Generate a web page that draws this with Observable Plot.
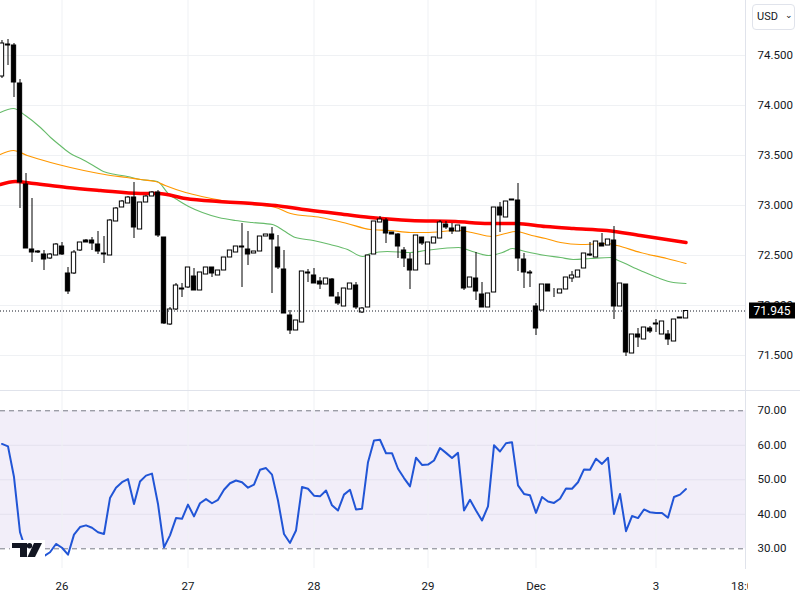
<!DOCTYPE html>
<html><head><meta charset="utf-8">
<script src="https://cdn.jsdelivr.net/npm/d3@7"></script>
<script src="https://cdn.jsdelivr.net/npm/@observablehq/plot@0.6"></script>
<style>
body{margin:0;background:#fff;}
#wrap{position:relative;width:800px;height:600px;overflow:hidden;background:#fff;font-family:Roboto,"Noto Sans",sans-serif;}
#price{position:absolute;left:0;top:0;}
#rsi{position:absolute;left:0;top:391px;}
.sep-h{position:absolute;left:0;top:390px;width:800px;height:1px;background:#e0e3eb;}
.sep-v{position:absolute;left:745px;top:0;width:1px;height:569px;background:#e0e3eb;}
.clip{position:absolute;left:748px;top:569px;width:52px;height:31px;background:#fff;}
#usd{position:absolute;left:752px;top:4px;width:41px;height:24px;border:1px solid #e0e3eb;border-radius:4px;background:#fff;font-size:11px;color:#131722;line-height:24px;box-sizing:content-box;}
#usd span.t{position:absolute;left:4px;top:0;}
#usd span.c{position:absolute;left:32px;top:-2px;font-size:9px;}
#logo{position:absolute;left:10px;top:540px;width:35px;height:20px;background:#fff;}
</style></head>
<body><div id="wrap">
<div id="price"></div><div id="rsi"></div>
<div class="sep-h"></div><div class="sep-v"></div><div class="clip"></div>
<div id="usd"><span class="t">USD</span><span class="c">&#8964;</span></div>
<svg id="logo" viewBox="0 0 35 20"><path d="M2 3H17V17H10V8H2Z" fill="#131722"/><circle cx="19.5" cy="5.8" r="2.7" fill="#131722"/><path d="M24 3H32L25 17H17.5Z" fill="#131722"/></svg>
</div>
<script>
const openP = [74.29,74.60,74.60,74.22,73.21,72.56,72.54,72.51,72.47,72.50,
72.59,72.32,72.32,72.55,72.65,72.65,72.61,72.52,72.50,72.84,
72.98,73.02,73.08,72.76,73.03,73.09,73.13,72.68,71.81,71.96,
72.16,72.18,72.29,72.15,72.31,72.38,72.30,72.35,72.48,72.53,
72.59,72.56,72.52,72.54,72.69,72.71,72.58,72.36,71.90,71.75,
71.83,72.32,72.30,72.24,72.21,72.26,72.08,71.99,72.16,72.20,
71.93,71.98,72.51,72.83,72.85,72.73,72.71,72.55,72.46,72.35,
72.68,72.41,72.62,72.67,72.81,72.77,72.74,72.78,72.18,72.27,
72.11,71.98,72.13,72.98,72.88,73.06,73.05,72.46,72.33,71.99,
71.95,72.21,72.15,72.12,72.16,72.27,72.28,72.37,72.50,72.48,
72.62,72.60,72.65,71.99,72.21,71.52,71.71,71.66,71.77,71.81,
71.71,71.71,71.64,71.87,71.87];
const highP = [74.65,74.66,74.62,74.26,73.32,73.07,72.55,72.55,72.52,72.62,
72.63,72.38,72.55,72.63,72.66,72.68,72.74,72.69,72.86,72.98,
73.05,73.09,73.23,73.03,73.10,73.14,73.15,72.68,71.98,72.22,
72.22,72.38,72.37,72.33,72.38,72.38,72.35,72.48,72.55,72.59,
72.82,72.74,72.54,72.69,72.71,72.78,72.70,72.55,71.95,71.85,
72.34,72.36,72.37,72.28,72.27,72.27,72.13,72.17,72.22,72.23,
71.98,72.50,72.84,72.89,72.87,72.73,72.72,72.58,72.52,72.70,
72.68,72.63,72.68,72.85,72.84,72.82,72.80,72.78,72.28,72.53,
72.23,72.12,72.98,73.03,73.04,73.06,73.22,72.52,72.35,72.02,
72.21,72.21,72.17,72.16,72.28,72.34,72.35,72.52,72.63,72.64,
72.72,72.66,72.79,72.22,72.21,71.71,71.77,71.78,71.79,71.86,
71.84,71.75,71.86,71.88,71.95];
const lowP = [74.27,74.40,74.08,72.97,72.57,72.43,72.52,72.35,72.46,72.50,
72.50,72.11,72.31,72.54,72.63,72.55,72.51,72.42,72.50,72.84,
72.98,73.02,72.67,72.76,73.03,73.09,72.68,71.81,71.80,71.95,
72.08,72.17,72.15,72.15,72.31,72.28,72.30,72.35,72.48,72.53,
72.18,72.40,72.52,72.54,72.69,72.12,72.36,71.92,71.71,71.75,
71.83,72.23,72.22,72.16,72.21,72.09,72.00,71.99,72.16,71.96,
71.92,71.98,72.51,72.83,72.62,72.71,72.47,72.38,72.16,72.35,
72.60,72.41,72.62,72.67,72.76,72.71,72.74,72.15,72.18,72.05,
71.98,71.98,72.13,72.73,72.88,73.05,72.34,72.17,72.18,71.70,
71.95,72.14,72.08,72.12,72.16,72.23,72.28,72.37,72.49,72.48,
72.59,72.60,71.86,71.99,71.49,71.52,71.58,71.66,71.72,71.73,
71.71,71.60,71.64,71.87,71.87];
const closeP = [74.62,74.61,74.23,73.23,72.57,72.53,72.53,72.46,72.51,72.61,
72.51,72.14,72.53,72.63,72.63,72.62,72.54,72.51,72.85,72.97,
73.04,73.08,72.78,73.03,73.09,73.13,72.70,71.82,71.96,72.20,
72.17,72.38,72.15,72.33,72.38,72.32,72.35,72.48,72.55,72.59,
72.58,72.51,72.54,72.69,72.71,72.66,72.38,71.92,71.75,71.85,
72.34,72.33,72.22,72.21,72.27,72.09,72.02,72.17,72.22,71.98,
71.97,72.50,72.84,72.86,72.72,72.71,72.59,72.47,72.35,72.70,
72.62,72.63,72.68,72.83,72.78,72.74,72.80,72.17,72.28,72.14,
71.98,72.12,72.98,72.90,73.04,73.05,72.47,72.33,72.32,71.77,
72.21,72.14,72.15,72.16,72.28,72.30,72.35,72.52,72.51,72.64,
72.59,72.66,71.99,72.22,71.53,71.71,71.68,71.78,71.74,71.82,
71.84,71.66,71.86,71.88,71.945];
const rsi = [60.4,59.7,50.8,34.8,29.5,28.2,27.9,27.9,29.0,31.4,
30.3,28.3,34.1,36.3,36.8,36.1,34.8,34.3,44.7,47.7,
49.3,50.2,43.0,49.5,51.2,51.8,43.0,30.4,33.9,38.9,
38.7,42.8,39.4,43.2,44.4,43.2,44.2,47.1,49.0,49.8,
49.3,47.7,48.6,52.9,53.4,51.5,44.0,34.3,31.7,35.3,
47.9,47.4,45.4,45.2,46.9,42.6,41.1,45.7,47.1,41.4,
41.6,55.1,61.4,61.6,57.7,57.7,53.2,50.5,48.1,56.4,
54.3,54.4,55.6,59.2,57.8,56.3,57.8,41.1,44.2,41.1,
38.2,42.3,60.0,58.2,60.6,60.9,48.4,45.9,45.5,40.4,
45.0,43.7,43.3,44.5,47.5,47.4,49.3,53.0,52.9,56.1,
54.6,56.4,40.1,45.9,35.1,39.5,38.9,41.4,40.6,40.4,
40.4,39.0,45.0,45.7,47.3];
// moving averages: [candle index, value]
const maGreenIdx = [-0.3,1.9,3.9,6.4,8.1,9.7,11.4,13.1,15.2,16.9,18.9,20.9,23.1,25.9,27.7,29.4,31.1,33.4,36.1,38.9,41.7,45.1,46.9,48.9,51.9,54.7,57.6,60.1,61.4,64.2,68.1,70.6,76.1,78.4,81.1,83.4,85.1,87.2,90.6,93.1,95.2,98.1,101.4,102.7,106.4,109.2,111.9,114];
const maGreenVal = [73.93,73.97,73.90,73.78,73.68,73.60,73.52,73.47,73.40,73.34,73.31,73.29,73.26,73.24,73.12,73.05,72.99,72.93,72.88,72.85,72.83,72.81,72.75,72.68,72.65,72.61,72.56,72.49,72.52,72.54,72.53,72.55,72.58,72.54,72.50,72.53,72.57,72.54,72.50,72.48,72.46,72.47,72.48,72.45,72.35,72.28,72.23,72.22];
const maOrangeIdx = [-0.3,1.9,4.2,8.1,11.4,15.3,18.1,20.8,23.1,25.6,27.2,30.6,33.3,36.7,38.9,41.7,45.6,48.1,53.1,57.5,61.4,64.7,68.1,70.6,76.1,78.3,81.7,83.9,85.6,88.3,90.6,93.1,96.4,100.8,102.5,106.4,110.8,114];
const maOrangeVal = [73.51,73.55,73.50,73.43,73.38,73.33,73.30,73.28,73.26,73.24,73.20,73.13,73.09,73.05,73.03,73.01,72.98,72.92,72.88,72.82,72.76,72.75,72.73,72.73,72.75,72.73,72.69,72.72,72.74,72.70,72.67,72.63,72.61,72.62,72.60,72.53,72.47,72.42];
const maRedIdx = [-0.3,2.2,5.3,10.8,16.4,23.1,26.1,30.6,36.1,41.7,45.6,50.3,55.8,61.4,68.1,75.6,81.1,85.6,90.6,95.3,100.8,106.4,114];
const maRedVal = [73.21,73.24,73.22,73.18,73.15,73.12,73.12,73.07,73.04,73.02,73.00,72.96,72.92,72.88,72.85,72.84,72.82,72.82,72.79,72.77,72.75,72.70,72.63];
const priceTicks = [71.5,72,72.5,73,73.5,74,74.5];
const rsiTicks = [30,40,50,60,70];
const rsiBand = [[30,70]];
const dayTickIdx = [10,31,52,71,89,109,123.9];
const dayTickLabels = ["26","27","28","29","Dec","3","18:00"];
const lastPrice = closeP[closeP.length-1];

const candles = openP.map((o,i)=>({i, open:o, high:highP[i], low:lowP[i], close:closeP[i]}));
const ma = (idx, val) => idx.map((x,k)=>({x, y: val[k]}));
const xDomain = [-0.25, (745-1.5)/6];
const font = {fontFamily:"Roboto, 'Noto Sans', sans-serif", fontSize:"11.5px", color:"#131722", background:"transparent", overflow:"visible"};
const grid = "#eff1f4";

const price = Plot.plot({
  width:800, height:391, marginLeft:0, marginRight:55, marginTop:0, marginBottom:0,
  style: font,
  x:{domain:xDomain, axis:null},
  y:{domain:[71.14,75.05]},
  marks:[
    Plot.ruleY(priceTicks,{stroke:grid}),
    Plot.ruleX(dayTickIdx.slice(0,-1),{stroke:grid}),
    Plot.line(ma(maGreenIdx,maGreenVal),{x:"x",y:"y",curve:"monotone-x",stroke:"#66bb6a",strokeWidth:1.1}),
    Plot.line(ma(maOrangeIdx,maOrangeVal),{x:"x",y:"y",curve:"monotone-x",stroke:"#ff9800",strokeWidth:1.2}),
    Plot.line(ma(maRedIdx,maRedVal),{x:"x",y:"y",curve:"monotone-x",stroke:"#ff0000",strokeWidth:3.5}),
    Plot.ruleX(candles,{x:"i",y1:"low",y2:"high",stroke:"#000",strokeWidth:1}),
    Plot.rect(candles,{x1:d=>d.i-0.36,x2:d=>d.i+0.36,y1:"open",y2:"close",fill:d=>d.close>=d.open?"#fff":"#000",stroke:"#000",strokeWidth:1}),
    Plot.ruleY([lastPrice],{stroke:"#131722",strokeDasharray:"1,2",strokeWidth:1}),
    Plot.axisY(priceTicks,{anchor:"right",tickSize:0,tickPadding:12,tickFormat:d3.format(".3f")})
  ]
});
// last price label on the price axis, positioned through the y scale
{
  const yS = price.scale("y");
  const yy = yS.apply ? yS.apply(lastPrice) : 310.5;
  const svg = d3.select(price);
  svg.append("rect").attr("x",749).attr("y",yy-8).attr("width",46).attr("height",16).attr("fill","#000");
  svg.append("text").attr("x",772).attr("y",yy).attr("dy","0.35em").attr("text-anchor","middle").attr("fill","#fff").attr("font-size","12px").text(d3.format(".3f")(lastPrice));
}
document.getElementById("price").appendChild(price);

const rsiChart = Plot.plot({
  width:800, height:209, marginLeft:0, marginRight:55, marginTop:0, marginBottom:32,
  style: font,
  x:{domain:xDomain},
  y:{domain:[24.29,75.59]},
  marks:[
    Plot.rect(rsiBand,{y1:d=>d[0],y2:d=>d[1],fill:"#7e57c2",fillOpacity:0.1}),
    Plot.ruleY([40,50,60],{stroke:"#e4e1ee"}),
    Plot.ruleX(dayTickIdx.slice(0,-1),{stroke:grid}),
    Plot.ruleY([30,70],{stroke:"#787b86",strokeDasharray:"5,4"}),
    Plot.line(rsi,{x:(d,i)=>i,y:d=>d,stroke:"#2155d6",strokeWidth:2}),
    Plot.axisY(rsiTicks,{anchor:"right",tickSize:0,tickPadding:12,tickFormat:d3.format(".2f")}),
    Plot.axisX(dayTickIdx,{anchor:"bottom",tickSize:0,tickPadding:13,tickFormat:(d,i)=>dayTickLabels[i]})
  ]
});
document.getElementById("rsi").appendChild(rsiChart);
</script>
</body></html>
